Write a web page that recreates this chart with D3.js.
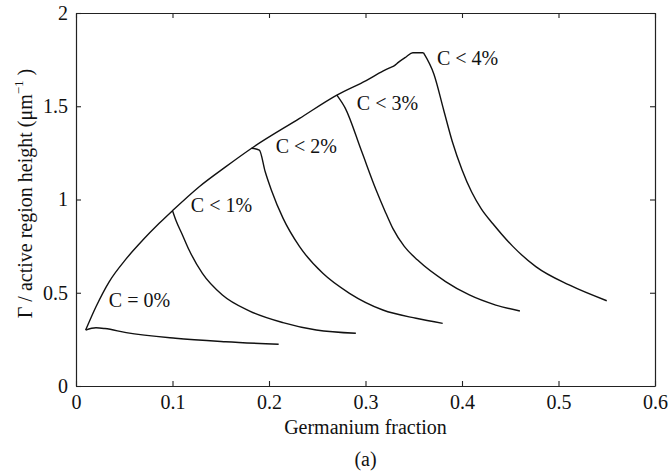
<!DOCTYPE html>
<html>
<head>
<meta charset="utf-8">
<script src="https://cdn.jsdelivr.net/npm/d3@7"></script>
<style>
  html, body { margin: 0; padding: 0; background: #fff; }
  svg { display: block; }
  text { font-family: "Liberation Serif", "Times New Roman", serif; fill: #111; }
</style>
</head>
<body>
<svg id="chart" width="669" height="474"></svg>
<script>
// Axis ticks
const xTicks = [0, 0.1, 0.2, 0.3, 0.4, 0.5, 0.6];
const yTicks = [0, 0.5, 1, 1.5, 2];

// Upper envelope shared by all curves: [germanium fraction, Γ / height]
const envelope = [
  [0.010, 0.300], [0.0207, 0.425], [0.0345, 0.560], [0.0517, 0.680],
  [0.069, 0.781], [0.0862, 0.872], [0.100, 0.940], [0.128, 1.070],
  [0.155, 1.175], [0.182, 1.275], [0.2317, 1.435], [0.2703, 1.560],
  [0.3007, 1.638], [0.318, 1.688], [0.325, 1.706], [0.330, 1.718],
  [0.334, 1.735], [0.342, 1.764], [0.349, 1.787], [0.360, 1.787]
];

// Falling branches for each carbon fraction
const c0 = [
  [0.010, 0.300], [0.0207, 0.312], [0.030, 0.308], [0.052, 0.286],
  [0.103, 0.256], [0.155, 0.2375], [0.210, 0.2235]
];
const c1 = [
  [0.100, 0.940], [0.1034, 0.890], [0.1103, 0.810], [0.1172, 0.729],
  [0.131, 0.604], [0.1517, 0.488], [0.180, 0.402], [0.2145, 0.340],
  [0.249, 0.300], [0.290, 0.2825]
];
const c2 = [
  [0.182, 1.275], [0.190, 1.265], [0.196, 1.150], [0.2025, 1.050],
  [0.2145, 0.900], [0.2317, 0.747], [0.2558, 0.604], [0.2834, 0.497],
  [0.318, 0.4075], [0.3524, 0.363], [0.380, 0.336]
];
const c3 = [
  [0.2703, 1.560], [0.279, 1.490], [0.2955, 1.265], [0.311, 1.051],
  [0.320, 0.940], [0.3283, 0.845], [0.340, 0.750], [0.354, 0.675],
  [0.383, 0.560], [0.4076, 0.488], [0.435, 0.434], [0.460, 0.402]
];
const c4 = [
  [0.360, 1.787], [0.371, 1.670], [0.381, 1.480], [0.390, 1.310],
  [0.400, 1.160], [0.410, 1.040], [0.420, 0.950], [0.432, 0.870],
  [0.4524, 0.750], [0.4765, 0.640], [0.511, 0.5416], [0.550, 0.457]
];

// Curve labels: text and anchor in data units
const labels = [
  { text: "C = 0%", x: 0.034, y: 0.425 },
  { text: "C < 1%", x: 0.119, y: 0.931 },
  { text: "C < 2%", x: 0.207, y: 1.250 },
  { text: "C < 3%", x: 0.291, y: 1.480 },
  { text: "C < 4%", x: 0.374, y: 1.721 }
];

const svg = d3.select("#chart");
const margin = { left: 76, right: 14, top: 13, bottom: 88 };
const W = 669, H = 474;

const x = d3.scaleLinear().domain([0, 0.6]).range([margin.left, W - margin.right]);
const y = d3.scaleLinear().domain([0, 2]).range([H - margin.bottom, margin.top]);

const fmt = d => d3.format("")(+d.toFixed(2));

// Axes with inward ticks on all four sides
const axisColor = "#222";
function styleAxis(g) {
  g.select(".domain").attr("stroke", axisColor).attr("stroke-width", 1.2);
  g.selectAll(".tick line").attr("stroke", axisColor).attr("stroke-width", 1.1);
  g.selectAll("text").attr("font-size", 20).attr("fill", "#111")
    .attr("font-family", '"Liberation Serif", serif');
}

svg.append("g")
  .attr("transform", `translate(0,${y(0)})`)
  .call(d3.axisBottom(x).tickValues(xTicks).tickFormat(fmt).tickSize(-5).tickSizeOuter(0).tickPadding(9))
  .call(styleAxis);
svg.append("g")
  .attr("transform", `translate(0,${y(2)})`)
  .call(d3.axisTop(x).tickValues(xTicks).tickFormat("").tickSize(-5).tickSizeOuter(0))
  .call(styleAxis);
svg.append("g")
  .attr("transform", `translate(${x(0)},0)`)
  .call(d3.axisLeft(y).tickValues(yTicks).tickFormat(fmt).tickSize(-5).tickSizeOuter(0).tickPadding(8))
  .call(styleAxis);
svg.append("g")
  .attr("transform", `translate(${x(0.6)},0)`)
  .call(d3.axisRight(y).tickValues(yTicks).tickFormat("").tickSize(-5).tickSizeOuter(0))
  .call(styleAxis);

// Curves
const line = d3.line()
  .x(d => x(d[0]))
  .y(d => y(d[1]))
  .curve(d3.curveMonotoneX);

[envelope, c0, c1, c2, c3, c4].forEach(series => {
  svg.append("path")
    .datum(series)
    .attr("d", line)
    .attr("fill", "none")
    .attr("stroke", "#111")
    .attr("stroke-width", 1.4)
    .attr("stroke-linejoin", "round");
});

// Curve labels
svg.selectAll(".clabel")
  .data(labels)
  .enter().append("text")
  .attr("class", "clabel")
  .attr("x", d => x(d.x))
  .attr("y", d => y(d.y))
  .attr("font-size", 20)
  .text(d => d.text);

// Axis titles
svg.append("text")
  .attr("x", (x(0) + x(0.6)) / 2)
  .attr("y", 434)
  .attr("text-anchor", "middle")
  .attr("font-size", 20)
  .text("Germanium fraction");

svg.append("text")
  .attr("x", (x(0) + x(0.6)) / 2)
  .attr("y", 466)
  .attr("text-anchor", "middle")
  .attr("font-size", 20)
  .text("(a)");

const yt = svg.append("text")
  .attr("transform", `translate(32,${(y(0) + y(2)) / 2 - 6}) rotate(-90)`)
  .attr("text-anchor", "middle")
  .attr("font-size", 20);
yt.append("tspan").text("Γ / active region height (μm");
yt.append("tspan").attr("font-size", 13).attr("dy", -9).text("−1");
yt.append("tspan").attr("dy", 9).text(" )");
</script>
</body>
</html>
